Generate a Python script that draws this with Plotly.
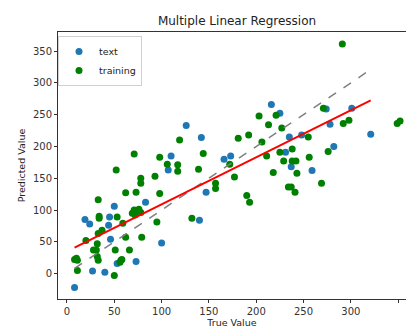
import plotly.graph_objects as go

# test ("text") points: true value, predicted value
test_true = [8, 19, 24, 27, 40, 44, 45, 46, 50, 53, 73, 83, 100, 107, 110, 126, 140, 142, 147,
             166, 173, 216, 225, 231, 235, 237, 248, 259, 274, 278, 282, 301, 321]
test_pred = [-22, 85, 78, 4, 2, 76, 89, 54, 106, 16, 19, 112, 48, 163, 185, 233, 84, 214, 128,
             180, 185, 266, 252, 191, 215, 168, 218, 162, 259, 235, 200, 260, 219]

# training points
train_true = [8, 10, 11, 11, 20, 28, 31, 32, 32, 33, 33, 33, 34, 34, 37, 50, 51, 52, 53, 56,
              57, 58, 59, 62, 62, 66, 69, 71, 72, 74, 76, 78, 73, 71, 78, 78, 79, 95, 93, 98,
              98, 106, 117, 117, 119, 132, 139, 144, 157, 157, 172, 177, 181, 190, 193, 192, 203, 206, 211, 213,
              218, 221, 225, 227, 229, 234, 237, 238, 238, 242, 241, 243, 255, 256, 269, 271, 276, 291, 292, 298,
              349, 352]
train_pred = [22, 24, 21, 5, 52, 37, 37, 47, 27, 21, 63, 116, 87, 90, 68, -3, 37, 163, 89, 18,
              21, 22, 79, 57, 127, 37, 95, 100, 92, 98, 101, 96, 128, 188, 150, 142, 57, 81, 153, 126,
              183, 172, 171, 161, 210, 87, 164, 189, 142, 134, 172, 152, 213, 123, 112, 218, 248, 207, 185, 234,
              159, 249, 191, 229, 177, 136, 136, 196, 177, 177, 128, 158, 215, 183, 142, 260, 192, 361, 236, 241,
              236, 240]

# regression fit (predicted ~ intercept + slope * true) drawn over the test range
fit_intercept = 35.0
fit_slope = 0.74

x_lo, x_hi = min(test_true), max(test_true)
fit_x = [x_lo, x_hi]
fit_y = [fit_intercept + fit_slope * v for v in fit_x]

font = "DejaVu Sans, Arial, sans-serif"

fig = go.Figure()
fig.add_trace(go.Scatter(x=test_true, y=test_pred, mode="markers", name="text",
                         marker=dict(color="#1f77b4", size=7, line=dict(width=0))))
fig.add_trace(go.Scatter(x=train_true, y=train_pred, mode="markers", name="training",
                         marker=dict(color="#008000", size=7, line=dict(width=0))))
fig.add_trace(go.Scatter(x=fit_x, y=fit_x, mode="lines", showlegend=False,
                         line=dict(color="#808080", width=1.5, dash="dash")))
fig.add_trace(go.Scatter(x=fit_x, y=fit_y, mode="lines", showlegend=False,
                         line=dict(color="red", width=2)))

fig.update_layout(
    width=406, height=331,
    margin=dict(l=58, r=0, t=32, b=32),
    paper_bgcolor="white", plot_bgcolor="white",
    font=dict(family=font, size=10, color="#333"),
    title=dict(text="Multiple Linear Regression", x=237/406, xref="container", xanchor="center",
               y=1 - 21/331, yanchor="middle", font=dict(size=12, color="#222")),
    showlegend=True,
    legend=dict(x=0.0, y=0.985, xanchor="left", yanchor="top",
                bgcolor="white", bordercolor="#d0d0d0", borderwidth=1,
                font=dict(size=9.5, color="#222"), itemwidth=30, tracegroupgap=0),
    xaxis=dict(range=[-9.5, 358.3], tickvals=[0, 50, 100, 150, 200, 250, 300, 350],
               showgrid=False, zeroline=False, showline=True, linecolor="#333", linewidth=1,
               mirror=True, ticks="outside", ticklen=3, tickcolor="#333",
               title=dict(text="True Value", font=dict(size=9.5, color="#222"), standoff=3)),
    yaxis=dict(range=[-40, 380], tickvals=[0, 50, 100, 150, 200, 250, 300, 350],
               showgrid=False, zeroline=False, showline=True, linecolor="#333", linewidth=1,
               mirror=False, ticks="outside", ticklen=3, tickcolor="#333",
               title=dict(text="Predicted Value", font=dict(size=9.5, color="#222"), standoff=5)),
)

fig.write_html("out.html")
